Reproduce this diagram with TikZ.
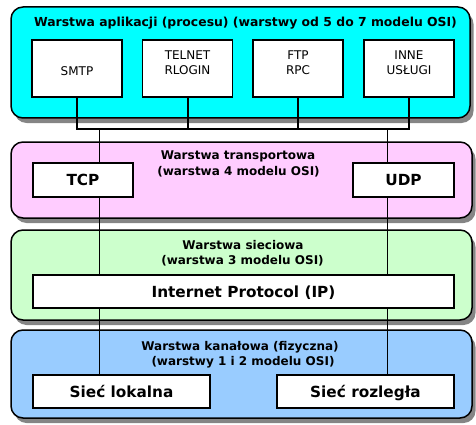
\documentclass[tikz,border=0pt]{standalone}
\usepackage{fontspec}
\setmainfont{DejaVu Sans}
\usetikzlibrary{shadows}

\definecolor{appcyan}{HTML}{00FFFF}
\definecolor{trpink}{HTML}{FFCCFF}
\definecolor{netgreen}{HTML}{CCFFCC}
\definecolor{linkblue}{HTML}{99CCFF}
\definecolor{shadowgray}{HTML}{858585}

\pgfdeclarelayer{bandlayer}
\pgfdeclarelayer{wirelayer}
\pgfsetlayers{bandlayer,wirelayer,main}

\begin{document}
\begin{tikzpicture}[x=1pt, y=-1pt,
  band/.style={draw=black, line width=1.5pt, rounded corners=12pt, inner sep=0pt,
    general shadow={fill=shadowgray, shadow xshift=3.5pt, shadow yshift=-5pt}},
  appbox/.style={draw=black, line width=1.6pt, fill=white, inner sep=0pt,
    minimum width=90pt, minimum height=57pt},
  protobox/.style={draw=black, line width=1.6pt, fill=white, inner sep=0pt,
    font=\bfseries\fontsize{15.3}{17}\selectfont, text height=11.1pt, text depth=0pt},
  head/.style={inner sep=0pt, font=\bfseries\fontsize{12}{14}\selectfont,
    text height=8.75pt, text depth=0pt},
  tophead/.style={head, font=\bfseries\fontsize{12.4}{14}\selectfont, text height=9pt},
  svc/.style={inner sep=0pt, font=\fontsize{12}{14}\selectfont,
    text height=8.75pt, text depth=0pt},
  bus/.style={line width=2pt, line cap=rect},
  drop/.style={line width=1pt}
]
\useasboundingbox (0,0) rectangle (476,425);

% layer bands with hard drop shadows
\begin{pgfonlayer}{bandlayer}
  \node[band, fill=appcyan,   minimum width=459pt, minimum height=111pt] (app) at (240.5,62.5) {};
  \node[band, fill=trpink,    minimum width=461pt, minimum height=76pt]  (tr)  at (241.5,180) {};
  \node[band, fill=netgreen,  minimum width=461pt, minimum height=90pt]  (net) at (241.5,275) {};
  \node[band, fill=linkblue,  minimum width=461pt, minimum height=88pt]  (lnk) at (241.5,374) {};
\end{pgfonlayer}

% layer titles
\node[tophead] (appT) at (245.5,22) {Warstwa aplikacji (procesu) (warstwy od 5 do 7 modelu OSI)};
\node[head] (trT1)  at (238,155) {Warstwa transportowa};
\node[head] (trT2)  at (238.5,171.5) {(warstwa 4 modelu OSI)};
\node[head] (netT1) at (243,245) {Warstwa sieciowa};
\node[head] (netT2) at (242.5,260) {(warstwa 3 modelu OSI)};
\node[head] (lnkT1) at (240,346) {Warstwa kanałowa (fizyczna)};
\node[head] (lnkT2) at (243,361) {(warstwy 1 i 2 modelu OSI)};

% application services
\node[appbox] (smtp)   at (77,68.5)  {};
\node[appbox] (telnet) at (187.5,68.5) {};
\node[appbox] (ftp)    at (298,68.5) {};
\node[appbox] (inne)   at (409,68.5) {};
\node[svc] (smtpL)    at (smtp.center |- 0,71)     {SMTP};
\node[svc] (telnetL1) at (telnet.center |- 0,55.5) {TELNET};
\node[svc] (telnetL2) at (telnet.center |- 0,70.5) {RLOGIN};
\node[svc] (ftpL1)    at (ftp.center |- 0,55)      {FTP};
\node[svc] (ftpL2)    at (ftp.center |- 0,70.5)    {RPC};
\node[svc] (inneL1)   at (inne.center |- 0,55)     {INNE};
\node[svc] (inneL2)   at (inne.center |- 0,70.5)   {USŁUGI};

% protocol boxes
\node[protobox, minimum width=100pt, minimum height=34pt]  (tcp) at (83,180)    {TCP};
\node[protobox, minimum width=101pt, minimum height=34pt]  (udp) at (403.5,180) {UDP};
\node[protobox, minimum width=421pt, minimum height=33pt]  (ip)  at (243.5,291.5) {Internet Protocol (IP)};
\node[protobox, minimum width=177pt, minimum height=33pt]  (lan) at (121.5,391.5) {Sieć lokalna};
\node[protobox, minimum width=177pt, minimum height=33pt]  (wan) at (365.5,391.5) {Sieć rozległa};

% wiring between the layers
\coordinate (busy)  at (0,129);
\coordinate (dropL) at (99,129);
\coordinate (dropR) at (387,129);
\begin{pgfonlayer}{wirelayer}
  \draw[bus] (smtp.south) -- (smtp.south |- busy) -- (inne.south |- busy) -- (inne.south);
  \draw[bus] (telnet.south) -- (telnet.south |- busy);
  \draw[bus] (ftp.south) -- (ftp.south |- busy);
  \draw[drop] (dropL) -- (dropL |- lan.north);
  \draw[drop] (dropR) -- (dropR |- wan.north);
\end{pgfonlayer}
\end{tikzpicture}
\end{document}
